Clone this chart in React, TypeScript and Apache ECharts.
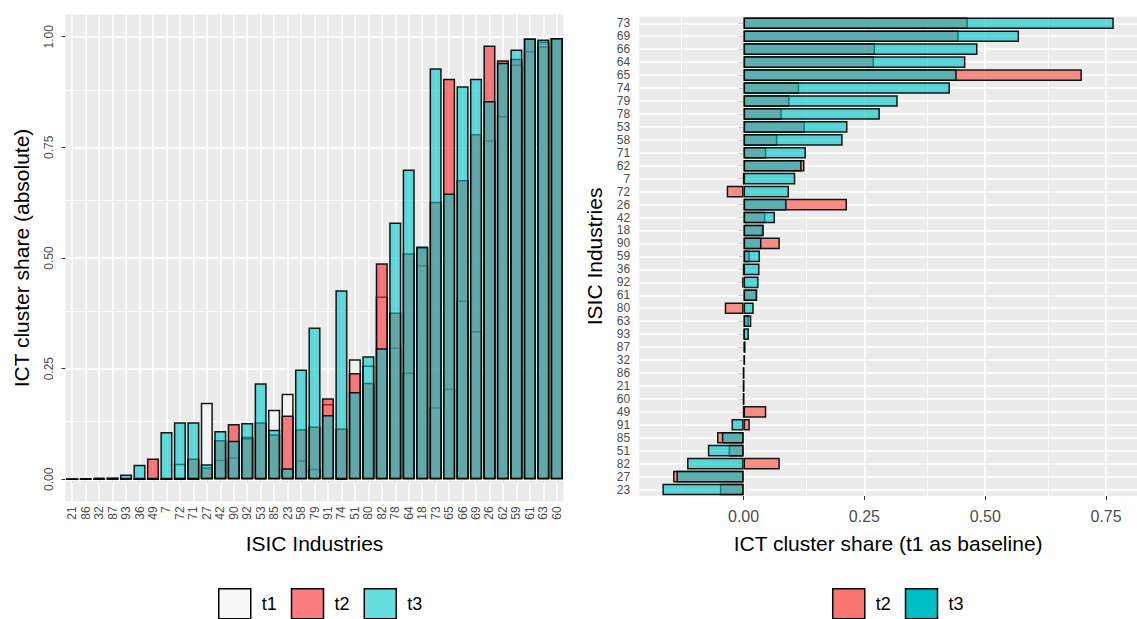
import React, { useEffect, useRef } from "react";
import * as echarts from "echarts";

// ISIC industries, in the order of the left (absolute) panel
const industries = [
  "21", "86", "32", "87", "93", "36", "49", "7", "72", "71", "27", "42", "90",
  "92", "53", "85", "23", "58", "79", "91", "74", "51", "80", "82", "78", "64",
  "18", "73", "65", "66", "69", "26", "62", "59", "61", "63", "60",
];

// ICT cluster share (absolute) per period
const shareT1 = [
  0, 0.001, 0, 0, 0, 0, 0, 0, 0.035, 0, 0.173, 0.044, 0.05,
  0.096, 0.002, 0.157, 0.193, 0.043, 0.024, 0.17, 0, 0.271, 0.257, 0.413, 0.298, 0.241,
  0.484, 0.163, 0.205, 0.404, 0.335, 0.766, 0.821, 0.937, 0.968, 0.978, 0.997,
];
const shareT2 = [
  0, 0.001, 0.003, 0.003, 0.002, 0, 0.047, 0, 0, 0.047, 0.027, 0.089, 0.125,
  0.093, 0.129, 0.102, 0.144, 0.113, 0.119, 0.183, 0.115, 0.24, 0.218, 0.488, 0.377, 0.511,
  0.524, 0.627, 0.905, 0.676, 0.78, 0.98, 0.947, 0.95, 0.996, 0.989, 0.997,
];
const shareT3 = [
  0, 0.001, 0.003, 0.004, 0.011, 0.033, 0, 0.107, 0.129, 0.129, 0.034, 0.109, 0.087,
  0.127, 0.217, 0.112, 0.025, 0.248, 0.343, 0.145, 0.427, 0.197, 0.278, 0.296, 0.58, 0.7,
  0.526, 0.929, 0.646, 0.888, 0.905, 0.855, 0.941, 0.971, 0.996, 0.994, 0.997,
];

// order of the right (t1 as baseline) panel, top to bottom
const baselineOrder = [
  "73", "69", "66", "64", "65", "74", "79", "78", "53", "58", "71", "62", "7",
  "72", "26", "42", "18", "90", "59", "36", "92", "61", "80", "63", "93", "87",
  "32", "86", "21", "60", "49", "91", "85", "51", "82", "27", "23",
];

const absTicks = [0, 0.25, 0.5, 0.75, 1];
const absMinor = [0.125, 0.375, 0.625, 0.875];
const diffTicks = [0, 0.25, 0.5, 0.75];
const diffMinor = [-0.125, 0.125, 0.375, 0.625];

const FONT = '"Liberation Sans", Arial, Helvetica, sans-serif';
const TICK_COLOR = "#4D4D4D";
const MAJOR = { color: "#FFFFFF", width: 1.6, type: "solid" as const };
const MINOR = { color: "#FFFFFF", width: 0.8, type: "solid" as const };
const BORDER = { borderColor: "rgba(0,0,0,0.9)", borderWidth: 1.5 };

export default function App() {
  const ref = useRef<HTMLDivElement>(null);

  useEffect(() => {
    if (!ref.current) return;
    const chart = echarts.init(ref.current, null, { renderer: "svg" });

    const pos = (c: string) => industries.indexOf(c);
    const diffT2 = baselineOrder.map((c) => +(shareT2[pos(c)] - shareT1[pos(c)]).toFixed(4));
    const diffT3 = baselineOrder.map((c) => +(shareT3[pos(c)] - shareT1[pos(c)]).toFixed(4));

    const gridLineSeries = (xi: number, lines: any[]) => ({
      type: "line",
      xAxisIndex: xi,
      yAxisIndex: xi,
      data: [],
      silent: true,
      z: 1,
      markLine: {
        silent: true,
        z: 1,
        symbol: ["none", "none"],
        label: { show: false },
        emphasis: { disabled: true },
        animation: false,
        data: lines,
      },
    });

    const leftLines = [
      ...absTicks.map((v) => ({ yAxis: v, lineStyle: MAJOR })),
      ...absMinor.map((v) => ({ yAxis: v, lineStyle: MINOR })),
      ...industries.map((_, i) => ({ xAxis: i, lineStyle: MAJOR })),
    ];
    const rightLines = [
      ...diffTicks.map((v) => ({ xAxis: v, lineStyle: MAJOR })),
      ...diffMinor.map((v) => ({ xAxis: v, lineStyle: MINOR })),
      ...baselineOrder.map((_, i) => ({ yAxis: i, lineStyle: MAJOR })),
    ];

    const tickStyle = { show: true, length: 4, lineStyle: { color: "#333333", width: 1 } };
    const nameStyle = { fontSize: 21, color: "#000000", fontFamily: FONT };
    const legendBase = {
      top: 588, orient: "horizontal", padding: 0,
      itemWidth: 32, itemHeight: 30, itemGap: 14, icon: "rect",
      selectedMode: false,
      itemStyle: { borderColor: "#000000", borderWidth: 1.5 },
      textStyle: { fontSize: 18, color: "#000000", fontFamily: FONT, padding: [0, 0, 0, 6] },
    };

    const option: any = {
      animation: false,
      textStyle: { fontFamily: FONT },
      grid: [
        {
          left: 65.5, top: 14.6, width: 498, height: 486.8,
          show: true, backgroundColor: "#EBEBEB", borderWidth: 0,
        },
        {
          left: 639.2, top: 16.8, width: 501, height: 479.2,
          show: true, backgroundColor: "#EBEBEB", borderWidth: 0,
        },
      ],
      xAxis: [
        {
          type: "category", gridIndex: 0, data: industries,
          axisLine: { show: false },
          axisTick: { ...tickStyle, alignWithLabel: true },
          axisLabel: { rotate: 90, interval: 0, fontSize: 12, color: TICK_COLOR, margin: 5, fontFamily: FONT },
          splitLine: { show: false },
          name: "ISIC Industries", nameLocation: "middle", nameGap: 32, nameTextStyle: nameStyle,
        },
        {
          type: "value", gridIndex: 1, min: -0.216, max: 0.814,
          axisLine: { show: false },
          axisTick: { ...tickStyle, customValues: diffTicks },
          axisLabel: {
            customValues: diffTicks, fontSize: 16, color: TICK_COLOR, margin: 12, fontFamily: FONT,
            formatter: (v: number) => v.toFixed(2),
          },
          splitLine: { show: false },
          name: "ICT cluster share (t1 as baseline)", nameLocation: "middle", nameGap: 37,
          nameTextStyle: nameStyle,
        },
      ],
      yAxis: [
        {
          type: "value", gridIndex: 0, min: -0.05, max: 1.05,
          axisLine: { show: false },
          axisTick: { ...tickStyle, customValues: absTicks },
          axisLabel: {
            customValues: absTicks, rotate: 90, fontSize: 12, color: TICK_COLOR, margin: 11, fontFamily: FONT,
            formatter: (v: number) => v.toFixed(2),
          },
          splitLine: { show: false },
          name: "ICT cluster share (absolute)", nameLocation: "middle", nameGap: 34,
          nameTextStyle: nameStyle,
        },
        {
          type: "category", gridIndex: 1, data: baselineOrder, inverse: true,
          axisLine: { show: false },
          axisTick: { ...tickStyle, length: 5, alignWithLabel: true },
          axisLabel: {
            interval: 0, fontSize: 12, lineHeight: 12, color: TICK_COLOR, margin: 9, fontFamily: FONT,
          },
          splitLine: { show: false },
          name: "ISIC Industries", nameLocation: "middle", nameGap: 34, nameTextStyle: nameStyle,
        },
      ],
      legend: [
        { ...legendBase, left: 218, data: ["t1", "t2", "t3"] },
        {
          ...legendBase,
          left: 832,
          data: [
            { name: "t2", itemStyle: { color: "#F8766D" } },
            { name: "t3", itemStyle: { color: "#00BFC4" } },
          ],
        },
      ],
      series: [
        gridLineSeries(0, leftLines),
        gridLineSeries(1, rightLines),
        {
          name: "t1", type: "bar", xAxisIndex: 0, yAxisIndex: 0, data: shareT1,
          barWidth: "90%", barGap: "-100%", z: 2,
          itemStyle: { color: "rgba(243,246,246,0.85)", ...BORDER },
        },
        {
          name: "t2", type: "bar", xAxisIndex: 0, yAxisIndex: 0, data: shareT2,
          barWidth: "90%", barGap: "-100%", z: 2,
          itemStyle: { color: "rgba(250,45,45,0.62)", ...BORDER },
        },
        {
          name: "t3", type: "bar", xAxisIndex: 0, yAxisIndex: 0, data: shareT3,
          barWidth: "90%", barGap: "-100%", z: 2,
          itemStyle: { color: "rgba(0,200,202,0.6)", ...BORDER },
        },
        {
          name: "t2", type: "bar", xAxisIndex: 1, yAxisIndex: 1, data: diffT2,
          barWidth: "90%", barGap: "-100%", z: 2,
          itemStyle: { color: "rgba(248,118,109,0.8)", ...BORDER },
        },
        {
          name: "t3", type: "bar", xAxisIndex: 1, yAxisIndex: 1, data: diffT3,
          barWidth: "90%", barGap: "-100%", z: 2,
          itemStyle: { color: "rgba(0,196,198,0.62)", ...BORDER },
        },
      ],
    };

    chart.setOption(option);
    return () => chart.dispose();
  }, []);

  return (
    <div
      ref={ref}
      style={{ position: "absolute", left: 0, top: 0, width: 1137, height: 619, background: "#FFFFFF" }}
    />
  );
}
